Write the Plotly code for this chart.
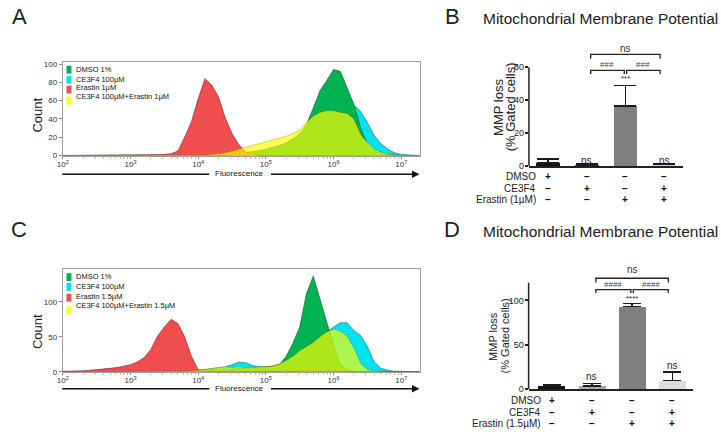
import plotly.graph_objects as go

W, H = 721, 441
FONT = "Liberation Sans, Arial, sans-serif"

# ------------------------------------------------------------------ data
# histogram bins (log10 of fluorescence)
log_bins = [2.0, 2.1, 2.2, 2.3, 2.4, 2.5, 2.6, 2.7, 2.8, 2.9,
            3.0, 3.1, 3.2, 3.3, 3.4, 3.5, 3.6, 3.7, 3.8, 3.9,
            4.0, 4.1, 4.2, 4.3, 4.4, 4.5, 4.6, 4.7, 4.8, 4.9,
            5.0, 5.1, 5.2, 5.3, 5.4, 5.5, 5.6, 5.7, 5.8, 5.9,
            6.0, 6.1, 6.2, 6.3, 6.4, 6.5, 6.6, 6.7, 6.8, 6.9,
            7.0, 7.1, 7.2, 7.3]

labels_A = ["DMSO 1%", "CE3F4 100µM", "Erastin 1µM", "CE3F4 100µM+Erastin 1µM"]
labels_C = ["DMSO 1%", "CE3F4 100µM", "Erastin 1.5µM", "CE3F4 100µM+Erastin 1.5µM"]

A_dmso = [0, 0, 0, 0, 0, 0, 0, 0, 0, 0,
          0, 0, 0, 0, 0, 0, 0, 0, 0, 0,
          0, 0, 0, 0, 0.5, 1, 2, 3, 4, 5,
          6, 8, 10, 13, 18, 24, 34, 52, 71, 82,
          94, 92, 74, 56, 30, 12, 5, 2, 1, 0.3,
          0, 0, 0, 0]
A_ce3f4 = [0, 0, 0, 0, 0, 0, 0, 0, 0, 0,
           0, 0, 0, 0, 0, 0, 0, 0, 0, 0,
           0, 0, 0, 0, 0.5, 1, 2, 3, 4, 5,
           7, 9, 11, 14, 18, 23, 32, 42, 48, 52,
           54, 56, 57, 55, 48, 36, 22, 13, 7, 3,
           1.2, 0.5, 0.2, 0]
A_erastin = [0, 0, 0, 0, 0, 0, 0, 0, 0, 0.2,
             0.3, 0.4, 0.5, 0.6, 0.8, 1.2, 2, 5, 20, 37,
             62, 84, 77, 64, 41, 24, 12, 4, 1.5, 0.5,
             0.2, 0, 0, 0, 0, 0, 0, 0, 0, 0,
             0, 0, 0, 0, 0, 0, 0, 0, 0, 0,
             0, 0, 0, 0]
A_combo = [0, 0, 0, 0, 0, 0, 0, 0, 0, 0,
           0, 0, 0, 0, 0, 0, 0, 0, 0.2, 0.3,
           0.4, 0.5, 1, 2, 3, 5, 7, 9, 11, 13,
           15, 17, 19, 21, 24, 28, 36, 43, 47, 49,
           49, 47, 46, 40, 23, 14, 7, 3.5, 1.5, 0.5,
           0.2, 0, 0, 0]

C_dmso = [0, 0, 0, 0, 0, 0, 0, 0, 0, 0,
          0, 0, 0, 0, 0, 0, 0, 0, 0.5, 0.5,
          1, 2, 3, 3, 4, 4, 5, 5, 5, 5,
          6, 8, 10, 22, 41, 64, 112, 137, 104, 68,
          38, 10, 2, 0.5, 0, 0, 0, 0, 0, 0,
          0, 0, 0, 0]
C_ce3f4 = [0, 0, 0, 0, 0, 0, 0, 0, 0, 0,
           0, 0, 0, 0, 0, 0, 0, 0, 0.5, 1,
           2, 3, 4, 5, 7, 10, 14, 13, 9, 7,
           7, 8, 11, 16, 22, 30, 37, 43, 50, 57,
           64, 70, 70, 59, 52, 36, 14, 5, 2, 0.8,
           0.3, 0, 0, 0]
C_erastin = [0.5, 0.5, 1, 1.5, 2, 3, 3.5, 4.5, 6, 8,
             10, 14, 20, 32, 51, 64, 75, 69, 50, 22,
             3, 1, 0.5, 0.3, 0.2, 0.2, 0.2, 0.2, 0.2, 0.2,
             0.3, 0.3, 0.3, 0.5, 0.8, 1, 1.5, 1.5, 1.5, 1.5,
             1.5, 1.5, 1, 0.5, 0.2, 0, 0, 0, 0, 0,
             0, 0, 0, 0]
C_combo = [0, 0, 0, 0, 0, 0, 0, 0, 0, 0,
           0, 0, 0, 0, 0, 0, 0, 0, 0.5, 1,
           2, 3, 5, 6, 7, 6, 7, 6, 6, 6,
           7, 8, 11, 16, 22, 30, 36, 42, 50, 57,
           61, 58, 51, 34, 12, 3, 1, 0.3, 0, 0,
           0, 0, 0, 0]

hist_decades = [2, 3, 4, 5, 6, 7]
A_yticks = [0, 20, 40, 60, 80, 100]
C_yticks = [0, 50, 100]

# bar charts
groups = [0, 1, 2, 3]   # DMSO, CE3F4, Erastin, CE3F4+Erastin
B_mean = [2.0, 0.5, 36.5, 1.0]
B_err = [2.4, 1.0, 12.3, 0.5]
D_mean = [3.5, 3.5, 93.0, 9.5]
D_err = [1.0, 2.8, 3.8, 9.5]
B_yticks = [0, 20, 40, 60]
D_yticks = [0, 50, 100]

rows_B = ["DMSO", "CE3F4", "Erastin (1µM)"]
rows_D = ["DMSO", "CE3F4", "Erastin (1.5µM)"]
signs = [["+", "−", "−", "−"],
         ["−", "+", "−", "+"],
         ["−", "−", "+", "+"]]

bar_marks_B = ["", "ns", "***", "ns"]
bar_marks_D = ["", "ns", "****", "ns"]

# ------------------------------------------------------------------ helpers
def px(x):
    return x / W


def py(y):
    return 1 - y / H


fig = go.Figure()

# colour styles: (fill, outline) drawn in this order: CE3F4, DMSO, Erastin, combo
STY = {
    "ce": ("rgb(0,226,238)", "rgb(20,105,115)"),
    "dmso": ("rgb(0,178,82)", "rgb(10,85,45)"),
    "era": ("rgb(240,78,78)", "rgb(125,30,30)"),
    "combo": ("rgba(255,255,0,0.68)", "rgba(110,110,0,0.55)"),
}


def add_hist(xa, ya, dmso, ce, era, combo):
    xs = [10 ** v for v in log_bins]
    for key, ys in [("ce", ce), ("dmso", dmso), ("era", era), ("combo", combo)]:
        fill, line = STY[key]
        fig.add_trace(go.Scatter(x=xs, y=ys, xaxis=xa, yaxis=ya, mode="lines",
                                 fill="tozeroy", fillcolor=fill,
                                 line=dict(color=line, width=0.6),
                                 hoverinfo="skip", showlegend=False))


add_hist("x", "y", A_dmso, A_ce3f4, A_erastin, A_combo)
add_hist("x3", "y3", C_dmso, C_ce3f4, C_erastin, C_combo)

B_colors = ["#111111", "#555555", "#7f7f7f", "#d4d4d4"]
D_colors = ["#111111", "#a8a8a8", "#7f7f7f", "#dddddd"]

fig.add_trace(go.Bar(x=groups, y=B_mean, xaxis="x2", yaxis="y2", width=0.62,
                     marker=dict(color=B_colors, line=dict(width=0)),
                     error_y=dict(type="data", array=B_err, arrayminus=[0] * 4,
                                  symmetric=False, color="#1a1a1a", thickness=1.6, width=11),
                     hoverinfo="skip", showlegend=False))
fig.add_trace(go.Bar(x=groups, y=D_mean, xaxis="x4", yaxis="y4", width=0.67,
                     marker=dict(color=D_colors, line=dict(width=0)),
                     error_y=dict(type="data", array=D_err, arrayminus=[0] * 4,
                                  symmetric=False, color="#1a1a1a", thickness=1.6, width=9),
                     hoverinfo="skip", showlegend=False))

minor_vals = [m * 10 ** d for d in range(2, 8) for m in range(2, 10)]


def hist_xaxis(dom, anchor):
    return dict(domain=dom, type="log", range=[2, 7.27],
                tickvals=[10 ** k for k in hist_decades],
                ticktext=[f"10<sup>{k}</sup>" for k in hist_decades],
                ticks="outside", ticklen=2, tickcolor="#888", ticklabelstandoff=-1,
                tickfont=dict(size=8, color="#333", family=FONT),
                showline=True, linecolor="#a0a0a0", linewidth=1, mirror=True,
                showgrid=False, zeroline=False, anchor=anchor,
                minor=dict(tickvals=minor_vals, ticks="outside", ticklen=2, tickcolor="#bbb"))


def hist_yaxis(dom, rng, tv, anchor):
    return dict(domain=dom, range=rng, tickvals=tv, ticks="outside", ticklen=3,
                tickcolor="#888", tickfont=dict(size=8, color="#333", family=FONT),
                showline=True, linecolor="#a0a0a0", linewidth=1, mirror=True,
                showgrid=False, zeroline=False, anchor=anchor)


def bar_xaxis(dom, rng, anchor):
    return dict(domain=dom, range=rng, showline=True, linecolor="#222", linewidth=1.5,
                showticklabels=False, ticks="", showgrid=False, zeroline=False, anchor=anchor)


def bar_yaxis(dom, rng, tv, anchor, fs):
    return dict(domain=dom, range=rng, tickvals=tv, ticks="outside", ticklen=3, tickwidth=1.5,
                tickcolor="#222", ticklabelstandoff=-1,
                tickfont=dict(size=fs, color="#222", family=FONT),
                showline=False, showgrid=False, zeroline=False, anchor=anchor)


# bar-axis geometry (pixels) used both for the axes and for the treatment table
BAR_GEOM = {
    "x2": dict(left=527.3, right=683.0, rng=[-0.5, 3.5]),
    "x4": dict(left=527.0, right=693.0, rng=[-0.57, 3.52]),
}


def cat_to_paper(xa, g):
    geo = BAR_GEOM[xa]
    r0, r1 = geo["rng"]
    return px(geo["left"] + (g - r0) / (r1 - r0) * (geo["right"] - geo["left"]))


fig.update_layout(
    width=W, height=H, margin=dict(l=0, r=0, t=0, b=0),
    paper_bgcolor="white", plot_bgcolor="rgba(0,0,0,0)",
    font=dict(family=FONT, color="#222"),
    bargap=0,
    xaxis=hist_xaxis([px(57.3), px(417)], "y"),
    yaxis=hist_yaxis([py(156), py(61)], [0, 102.2], A_yticks, "x"),
    xaxis3=hist_xaxis([px(57.3), px(417)], "y3"),
    yaxis3=hist_yaxis([py(375.7), py(271)], [0, 147.5], C_yticks, "x3"),
    xaxis2=bar_xaxis([px(BAR_GEOM["x2"]["left"]), px(BAR_GEOM["x2"]["right"])],
                     BAR_GEOM["x2"]["rng"], "y2"),
    yaxis2=bar_yaxis([py(166.7), py(28)], [0, 82.8], B_yticks, "x2", 9),
    xaxis4=bar_xaxis([px(BAR_GEOM["x4"]["left"]), px(BAR_GEOM["x4"]["right"])],
                     BAR_GEOM["x4"]["rng"], "y4"),
    yaxis4=bar_yaxis([py(393.3), py(262)], [0, 145.9], D_yticks, "x4", 9),
)

shapes = []
ann = []


def text(x, y, s, size, xref="paper", yref="paper", xanchor="center", yanchor="middle",
         color="#222", angle=0, yshift=0):
    ann.append(dict(x=x, y=y, xref=xref, yref=yref, text=s, showarrow=False,
                    xanchor=xanchor, yanchor=yanchor, textangle=angle, yshift=yshift,
                    borderpad=0, font=dict(size=size, color=color, family=FONT)))


# y axis lines of bar charts (stop at last labelled value)
shapes.append(dict(type="line", xref="x2 domain", x0=0, x1=0, yref="y2", y0=0, y1=60,
                   line=dict(color="#222", width=1.5)))
shapes.append(dict(type="line", xref="x4 domain", x0=0, x1=0, yref="y4", y0=0, y1=120,
                   line=dict(color="#222", width=1.5)))

# panel letters & titles
text(px(13.5), py(15), "A", 22)
text(px(450), py(15), "B", 22)
text(px(13.5), py(231), "C", 22)
text(px(450), py(231), "D", 22)
text(px(599), py(17), "Mitochondrial Membrane Potential", 15.5)
text(px(599), py(233), "Mitochondrial Membrane Potential", 15.5)


# histogram decorations
def hist_decor(top_offset, labels, sq_y, tx_y, fl_y):
    text(px(31.7), py(top_offset), "Count", 13, angle=-90)
    cols = [STY["dmso"][0], STY["ce"][0], STY["era"][0], "rgb(255,255,40)"]
    for c, sy in zip(cols, sq_y):
        shapes.append(dict(type="rect", xref="paper", yref="paper", x0=px(61), x1=px(66),
                           y0=py(sy + 4), y1=py(sy - 4), fillcolor=c, line=dict(width=0)))
    for lab, ty in zip(labels, tx_y):
        text(px(69.5), py(ty), lab, 7.5, xanchor="left", color="#111")
    text(px(235), py(fl_y - 0.5), "Fluorescence", 8, color="#111")
    shapes.append(dict(type="line", xref="paper", yref="paper", x0=px(56.7), x1=px(205),
                       y0=py(fl_y), y1=py(fl_y), line=dict(color="#111", width=1.5)))
    ann.append(dict(x=px(417), y=py(fl_y), xref="paper", yref="paper", text="", showarrow=True,
                    ax=-150, ay=0, arrowhead=2, arrowsize=1, arrowwidth=1.5, arrowcolor="#111"))


hist_decor(115, labels_A, [68.8, 79, 89, 100.3], [69, 79, 87, 96], 175)
hist_decor(335, labels_C, [279.5, 289.5, 300.5, 313.3], [279.3, 289.3, 299, 308.3], 393)


# bar chart decorations
def bar_decor(xa, ya, means, errs, marks, ns_shift, star_y, lvl1, lvl2, hash_txt,
              title_x, title_y, title_fs, rows, row_x, row_y, row_fs, sign_fs):
    # marks above bars
    for g, m, e, mk in zip(groups, means, errs, marks):
        if mk == "ns":
            text(g, m + e, "ns", 10, xref=xa, yref=ya, yanchor="bottom", yshift=ns_shift)
        elif mk:
            text(g, star_y, mk, 8, xref=xa, yref=ya)
    # brackets: (height, drop, text height)
    h1, d1, t1 = lvl1
    h2, d2, t2 = lvl2
    for x0, x1 in [(1.1, 1.97), (2.03, 2.9)]:
        shapes.append(dict(type="path", xref=xa, yref=ya,
                           path=f"M {x0},{h1 - d1} L {x0},{h1} L {x1},{h1} L {x1},{h1 - d1}",
                           line=dict(color="#222", width=1.3)))
        text((x0 + x1) / 2, t1, hash_txt, 8, xref=xa, yref=ya, color="#444")
    shapes.append(dict(type="path", xref=xa, yref=ya,
                       path=f"M 1.1,{h2 - d2} L 1.1,{h2} L 2.9,{h2} L 2.9,{h2 - d2}",
                       line=dict(color="#222", width=1.3)))
    text(2.0, t2, "ns", 10, xref=xa, yref=ya, color="#333")
    # y title
    text(px(title_x[0]), py(title_y), "MMP loss", title_fs, angle=-90)
    text(px(title_x[1]), py(title_y), "(% Gated cells)", title_fs, angle=-90)
    # treatment table
    for r, (lab, ry) in enumerate(zip(rows, row_y)):
        text(px(row_x), py(ry), lab, row_fs, xanchor="right")
        for g in groups:
            text(cat_to_paper(xa, g), py(ry), "<b>" + signs[r][g] + "</b>", sign_fs, color="#111")


bar_decor("x2", "y2", B_mean, B_err, bar_marks_B, -3, 53.0, (58.0, 2.2, 61.8), (67.7, 2.6, 71.2),
          "###", (496.0, 508.5), 106.7, 13, rows_B, 535, [177.8, 189.3, 200.8], 10, 10)
bar_decor("x4", "y4", D_mean, D_err, bar_marks_D, 0, 102.5, (112.2, 3.8, 118.6), (125.1, 4.8, 135.0),
          "####", (491.7, 503.3), 339.7, 11, rows_D, 540, [405, 416.7, 428.4], 10, 10)

fig.update_layout(shapes=shapes, annotations=ann)
fig.write_html("out.html", config={"displayModeBar": False},
               post_script="document.body.style.margin='0';document.body.style.padding='0';")
